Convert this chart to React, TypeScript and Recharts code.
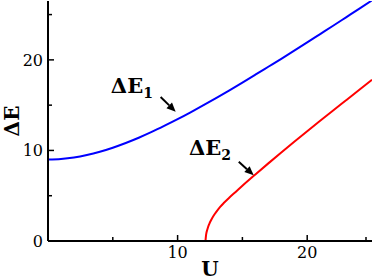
import { LineChart, Line, XAxis, YAxis, ReferenceLine, ReferenceDot } from "recharts";

// energy gaps vs U
const uBlue = [0, 1, 2, 3, 4, 5, 6, 7, 8, 9, 10, 11, 12, 13, 14, 15, 16, 17, 18, 19, 20, 21, 22, 23, 24, 25];
const e1 = [9, 9.06, 9.22, 9.49, 9.85, 10.3, 10.82, 11.4, 12.04, 12.73, 13.45, 14.21, 15, 15.81, 16.64, 17.49, 18.36, 19.24, 20.12, 21.02, 21.93, 22.85, 23.77, 24.7, 25.63, 26.57];
const uRed = [12.15, 12.2, 12.3, 12.45, 12.6, 12.8, 13, 13.3, 13.6, 14, 14.5, 15, 16, 17, 18, 19, 20, 21, 22, 23, 24, 25];
const e2 = [0, 0.7, 1.3, 1.9, 2.35, 2.85, 3.25, 3.8, 4.25, 4.8, 5.45, 6.1, 7.35, 8.57, 9.77, 10.95, 12.12, 13.27, 14.41, 15.54, 16.67, 17.8];

const xTicks = [0, 5, 10, 15, 20, 25];
const xLabels = [10, 20];
const yTicks = [0, 5, 10, 15, 20, 25];
const yLabels = [0, 10, 20];

const blueData = uBlue.map((u, i) => ({ u, e: e1[i] }));
const redData = uRed.map((u, i) => ({ u, e: e2[i] }));

const FONT = "DejaVu Serif";

const tickLen = (v: number, labels: number[]) => (labels.includes(v) ? 6 : 4);

const BottomTick = (p: any) => {
  const v = p.payload.value;
  return (
    <g>
      <line x1={p.x} y1={p.y} x2={p.x} y2={p.y - tickLen(v, xLabels)} stroke="#000" strokeWidth={1.5} />
      {xLabels.includes(v) && (
        <text x={p.x} y={p.y + 17} textAnchor="middle" fontFamily={FONT} fontSize={16} fill="#000">
          {v}
        </text>
      )}
    </g>
  );
};

const TopTick = (p: any) => {
  const v = p.payload.value;
  return <line x1={p.x} y1={p.y} x2={p.x} y2={p.y + tickLen(v, xLabels)} stroke="#000" strokeWidth={1.5} />;
};

const LeftTick = (p: any) => {
  const v = p.payload.value;
  return (
    <g>
      <line x1={p.x} y1={p.y} x2={p.x + tickLen(v, yLabels)} y2={p.y} stroke="#000" strokeWidth={1.5} />
      {yLabels.includes(v) && (
        <text x={p.x - 5} y={p.y + 6} textAnchor="end" fontFamily={FONT} fontSize={16} fill="#000">
          {v}
        </text>
      )}
    </g>
  );
};

const RightTick = (p: any) => {
  const v = p.payload.value;
  return <line x1={p.x} y1={p.y} x2={p.x - tickLen(v, yLabels)} y2={p.y} stroke="#000" strokeWidth={1.5} />;
};

const Arrow = (p: any) => {
  const { x1, y1, x2, y2 } = p;
  const a = Math.atan2(y2 - y1, x2 - x1);
  const L = 9;
  const W = 4;
  const bx = x2 - L * Math.cos(a);
  const by = y2 - L * Math.sin(a);
  const px = -Math.sin(a) * W;
  const py = Math.cos(a) * W;
  return (
    <g>
      <line x1={x1} y1={y1} x2={bx} y2={by} stroke="#000" strokeWidth={2} />
      <polygon points={`${x2},${y2} ${bx + px},${by + py} ${bx - px},${by - py}`} fill="#000" />
    </g>
  );
};

const annot = (sub: string) => (p: any) => (
  <text x={p.cx} y={p.cy} fontFamily={FONT} fontWeight="bold" fontSize={21} fill="#000">
    ΔE
    <tspan fontSize={14} dy={5}>
      {sub}
    </tspan>
  </text>
);

export default function App() {
  return (
    <div style={{ position: "absolute", left: 0, top: 0, background: "#fff" }}>
      <LineChart width={374} height={280} margin={{ top: 1, right: 2, bottom: 0, left: 0 }}>
        <XAxis
          xAxisId="b"
          dataKey="u"
          type="number"
          domain={[0, 25]}
          ticks={xTicks}
          allowDataOverflow
          height={39}
          tickSize={0}
          tickMargin={0}
          tickLine={false}
          axisLine={{ stroke: "#000", strokeWidth: 2 }}
          tick={<BottomTick />}
          label={(p: any) => {
            const vb = p.viewBox;
            return (
              <text x={vb.x + vb.width / 2} y={vb.y + 35} textAnchor="middle" fontFamily={FONT} fontWeight="bold" fontSize={20} fill="#000">
                U
              </text>
            );
          }}
        />
        <XAxis
          xAxisId="t"
          orientation="top"
          type="number"
          domain={[0, 25]}
          ticks={xTicks}
          height={0}
          tickSize={0}
          tickMargin={0}
          tickLine={false}
          axisLine={{ stroke: "#000", strokeWidth: 2 }}
          tick={<TopTick />}
        />
        <YAxis
          yAxisId="l"
          type="number"
          domain={[0, 26.5]}
          ticks={yTicks}
          allowDataOverflow
          width={48}
          tickSize={0}
          tickMargin={0}
          tickLine={false}
          axisLine={{ stroke: "#000", strokeWidth: 2 }}
          tick={<LeftTick />}
          label={(p: any) => {
            const vb = p.viewBox;
            const cy = vb.y + vb.height / 2;
            return (
              <text x={19} y={cy} transform={`rotate(-90 19 ${cy})`} textAnchor="middle" fontFamily={FONT} fontWeight="bold" fontSize={20} fill="#000">
                ΔE
              </text>
            );
          }}
        />
        <YAxis
          yAxisId="r"
          orientation="right"
          type="number"
          domain={[0, 26.5]}
          ticks={yTicks}
          width={0}
          tickSize={0}
          tickMargin={0}
          tickLine={false}
          axisLine={{ stroke: "#000", strokeWidth: 2 }}
          tick={<RightTick />}
        />
        <Line xAxisId="b" yAxisId="l" data={blueData} dataKey="e" type="monotone" stroke="#0000ff" strokeWidth={2} dot={false} isAnimationActive={false} />
        <Line xAxisId="b" yAxisId="l" data={redData} dataKey="e" type="monotone" stroke="#ff0000" strokeWidth={2} dot={false} isAnimationActive={false} />
        <ReferenceLine xAxisId="b" yAxisId="l" segment={[{ x: 8.69, y: 15.9 }, { x: 9.85, y: 14.28 }]} shape={Arrow} />
        <ReferenceLine xAxisId="b" yAxisId="l" segment={[{ x: 14.72, y: 8.75 }, { x: 15.87, y: 7.27 }]} shape={Arrow} />
        <ReferenceDot xAxisId="b" yAxisId="l" x={4.85} y={16.36} r={0} shape={annot("1")} />
        <ReferenceDot xAxisId="b" yAxisId="l" x={10.87} y={9.49} r={0} shape={annot("2")} />
      </LineChart>
    </div>
  );
}
